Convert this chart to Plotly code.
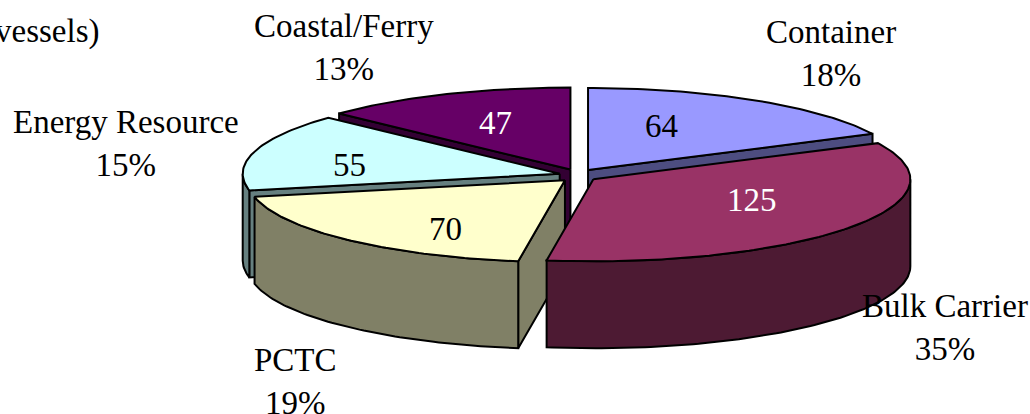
import math
import plotly.graph_objs as go

# values
categories = ["Container", "Bulk Carrier", "PCTC", "Energy Resource", "Coastal/Ferry"]
vessels = [64, 125, 70, 55, 47]

top_colors = ["#9999FF", "#993366", "#FFFFCC", "#CCFFFF", "#660066"]
side_colors = ["#4D4D80", "#4D1A33", "#808066", "#668080", "#330033"]
value_colors = ["black", "white", "black", "black", "white"]

# pixel geometry of the tilted pie
CX, CY = 578, 175.5
RX, RY = 317, 82
DEPTH = 87
EXPLODE = 19
EXPLODE_SQUASH = 0.34
SERIF = "Liberation Serif, Times New Roman, serif"
TEXT_SIZE = 33

# where the texts sit
name_pos = [(831, 53), (945, 327), (295, 381), (126, 143), (344, 47)]
value_pos = [(661, 126), (752, 200), (445, 229), (349, 165), (495, 123)]


def rim(ax, ay, a0, a1, dy=0):
    n = max(2, int(abs(a1 - a0)) + 1)
    pts = []
    for i in range(n + 1):
        a = math.radians(a0 + (a1 - a0) * i / n)
        pts.append((ax + RX * math.sin(a), ay - RY * math.cos(a) + dy))
    return pts


def poly(fig, pts, color):
    pts = pts + [pts[0]]
    fig.add_trace(go.Scatter(
        x=[p[0] for p in pts],
        y=[p[1] for p in pts],
        mode="lines",
        fill="toself",
        fillcolor=color,
        line=dict(color="black", width=2),
        hoverinfo="skip",
        showlegend=False
    ))


total = sum(vessels)
angles = []
start = 0
for v in vessels:
    end = start + v / total * 360
    angles.append((start, end))
    start = end

fig = go.Figure()

# back slices first, so the front ones cover them
for i in [4, 0, 3, 2, 1]:
    a0, a1 = angles[i]
    mid = math.radians((a0 + a1) / 2)
    ax = CX + EXPLODE * math.sin(mid)
    ay = CY - EXPLODE * EXPLODE_SQUASH * math.cos(mid)

    # cut faces, only those turned towards the viewer
    faces = []
    if math.sin(math.radians(a0)) < -1e-9:
        faces.append(a0)
    if math.sin(math.radians(a1)) > 1e-9:
        faces.append(a1)
    for a in faces:
        edge = rim(ax, ay, a, a)[0]
        poly(fig, [(ax, ay), edge, (edge[0], edge[1] + DEPTH), (ax, ay + DEPTH)], side_colors[i])

    # outer wall, same thing
    lo, hi = max(a0, 90), min(a1, 270)
    if lo < hi:
        poly(fig, rim(ax, ay, lo, hi) + rim(ax, ay, hi, lo, DEPTH), side_colors[i])

    poly(fig, [(ax, ay)] + rim(ax, ay, a0, a1), top_colors[i])

annotations = []
for i, name in enumerate(categories):
    pct = round(vessels[i] / total * 100)
    annotations.append(dict(
        x=name_pos[i][0], y=name_pos[i][1],
        text=f"{name}<br>{pct}%",
        showarrow=False,
        font=dict(family=SERIF, size=TEXT_SIZE, color="black")
    ))
    annotations.append(dict(
        x=value_pos[i][0], y=value_pos[i][1],
        text=str(vessels[i]),
        showarrow=False,
        font=dict(family=SERIF, size=TEXT_SIZE, color=value_colors[i])
    ))

# unit note, cut off by the left edge in the reference
annotations.append(dict(
    x=101, y=31, xanchor="right",
    text="vessels)",
    showarrow=False,
    font=dict(family=SERIF, size=TEXT_SIZE, color="black")
))

fig.update_layout(
    width=1030,
    height=414,
    margin=dict(l=0, r=0, t=0, b=0),
    paper_bgcolor="white",
    plot_bgcolor="white",
    showlegend=False,
    annotations=annotations,
    xaxis=dict(range=[0, 1030], visible=False, fixedrange=True),
    yaxis=dict(range=[414, 0], visible=False, fixedrange=True)
)

# the page's default body margin would shift everything by 8px
fig.write_html(
    "out.html",
    config={"displayModeBar": False},
    post_script="document.body.style.margin='0';"
)
